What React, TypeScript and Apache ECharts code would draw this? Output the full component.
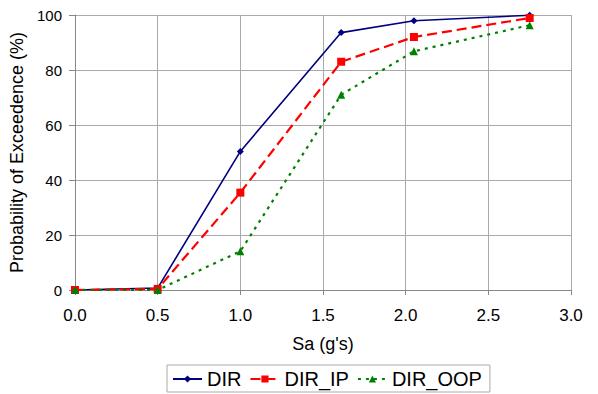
import React, { useEffect, useRef } from "react";
import * as echarts from "echarts";

const sa = [0, 0.5, 1.0, 1.61, 2.05, 2.75];
const dir = [0, 0.7, 50.4, 93.6, 97.9, 99.9];
const dirIP = [0, 0.4, 35.4, 83.0, 92.0, 98.9];
const dirOOP = [0, 0, 14.1, 71.0, 86.8, 96.3];
const seriesNames = ["DIR", "DIR_IP", "DIR_OOP"];

const pairs = (ys: number[]) => sa.map((x, i) => [x, ys[i]]);

export default function App() {
  const ref = useRef<HTMLDivElement>(null);
  useEffect(() => {
    const chart = echarts.init(ref.current!, null, { renderer: "svg" });
    const font = "Liberation Sans, Arial, sans-serif";
    chart.setOption({
      animation: false,
      textStyle: { fontFamily: font },
      grid: { left: 75, right: 27, top: 15, bottom: 104, containLabel: false },
      xAxis: {
        type: "value",
        min: 0,
        max: 3,
        interval: 0.5,
        name: "Sa (g's)",
        nameLocation: "middle",
        nameGap: 45,
        nameTextStyle: { fontSize: 18, color: "#000", fontFamily: font },
        axisLine: { lineStyle: { color: "#888" } },
        axisTick: { show: true, length: 5, lineStyle: { color: "#888" } },
        axisLabel: { fontSize: 17, color: "#000", formatter: (v: number) => v.toFixed(1), margin: 17 },
        splitLine: { show: true, lineStyle: { color: "#aaaaaa", width: 1 } },
      },
      yAxis: {
        type: "value",
        min: 0,
        max: 100,
        interval: 20,
        name: "Probability of Exceedence (%)",
        nameLocation: "middle",
        nameGap: 43,
        nameTextStyle: { fontSize: 18, color: "#000", fontFamily: font },
        axisLine: { show: true, lineStyle: { color: "#888" } },
        axisTick: { show: true, length: 6, lineStyle: { color: "#888" } },
        axisLabel: { fontSize: 15, color: "#000", margin: 13 },
        splitLine: { show: true, lineStyle: { color: "#aaaaaa", width: 1 } },
      },
      legend: {
        left: 167,
        top: 365,
        orient: "horizontal",
        borderColor: "#aaa",
        borderWidth: 1,
        padding: [4, 8, 3, 5],
        itemGap: 8,
        itemWidth: 29,
        itemHeight: 9,
        textStyle: { fontSize: 20, color: "#000", fontFamily: font },
        data: seriesNames,
      },
      series: [
        {
          name: seriesNames[0],
          type: "line",
          data: pairs(dir),
          symbol: "diamond",
          symbolSize: 7,
          lineStyle: { color: "#000080", width: 1.6 },
          itemStyle: { color: "#000080" },
          z: 3,
        },
        {
          name: seriesNames[1],
          type: "line",
          data: pairs(dirIP),
          symbol: "rect",
          symbolSize: 8,
          lineStyle: { color: "#ff0000", width: 2.2, type: [10, 5] },
          itemStyle: { color: "#ff0000" },
          z: 4,
        },
        {
          name: seriesNames[2],
          type: "line",
          data: pairs(dirOOP),
          symbol: "triangle",
          symbolSize: 8,
          lineStyle: { color: "#008000", width: 2.2, type: [3, 5] },
          itemStyle: { color: "#008000" },
          z: 5,
        },
      ],
    });
    return () => chart.dispose();
  }, []);
  return <div ref={ref} style={{ position: "absolute", left: 0, top: 0, width: 598, height: 394 }} />;
}
